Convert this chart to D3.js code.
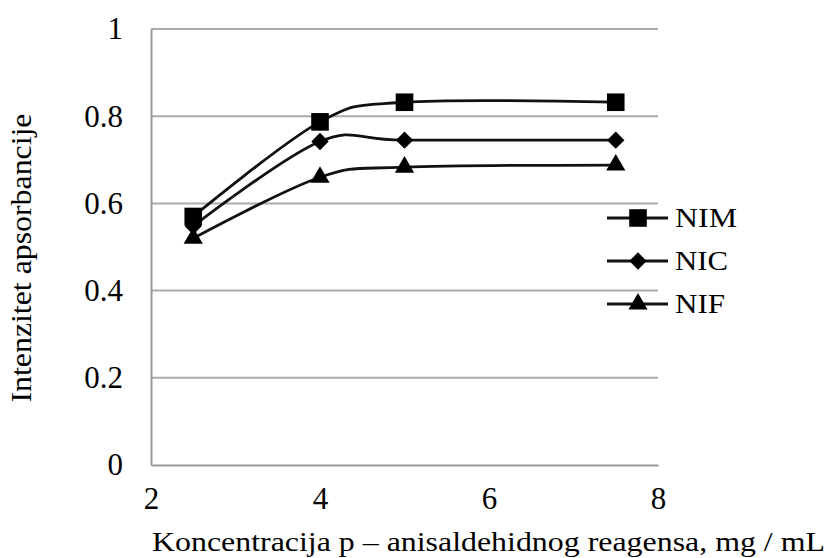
<!DOCTYPE html>
<html>
<head>
<meta charset="utf-8">
<script src="https://cdn.jsdelivr.net/npm/d3@7"></script>
<style>
  html, body { margin: 0; padding: 0; background: #fff; }
</style>
</head>
<body>
<svg id="chart" width="827" height="558"></svg>
<script>
const xValues = [2.5, 4, 5, 7.5];
const seriesNames = ["NIM", "NIC", "NIF"];
const nimValues = [0.57, 0.787, 0.832, 0.832];
const nicValues = [0.548, 0.742, 0.745, 0.745];
const nifValues = [0.52, 0.66, 0.683, 0.688];
const xTicks = [2, 4, 6, 8];
const yTicks = [0, 0.2, 0.4, 0.6, 0.8, 1];
const yTickLabels = ["0", "0.2", "0.4", "0.6", "0.8", "1"];
const xTitle = "Koncentracija p \u2013 anisaldehidnog reagensa, mg / mL";
const yTitle = "Intenzitet apsorbancije";

const FONT = "'Liberation Serif', 'Times New Roman', serif";
const seriesValues = [nimValues, nicValues, nifValues];

// marker generators: square, diamond (rotated square), triangle
const markerPath = [
  d3.symbol().type(d3.symbolSquare).size(310)(),
  d3.symbol().type(d3.symbolSquare).size(150)(),
  d3.symbol().type(d3.symbolTriangle).size(160)()
];
const markerRotate = [0, 45, 0];

const svg = d3.select("#chart");
const x = d3.scaleLinear().domain([2, 8]).range([151, 658]);
const y = d3.scaleLinear().domain([0, 1]).range([465, 29]);

// gridlines
svg.append("g").selectAll("line").data(yTicks.filter(d => d > 0)).join("line")
  .attr("x1", x(2)).attr("x2", x(8))
  .attr("y1", d => y(d)).attr("y2", d => y(d))
  .attr("stroke", "#ababab").attr("stroke-width", 2);

// axes
const xAxis = svg.append("g").attr("transform", `translate(0,${y(0)})`)
  .call(d3.axisBottom(x).tickValues(xTicks).tickSize(0).tickPadding(22).tickFormat(d3.format("d")));
xAxis.attr("font-family", null).attr("font-size", null);
xAxis.select(".domain").attr("stroke", "#9a9a9a").attr("stroke-width", 2);
xAxis.selectAll("text").style("font-family", FONT).style("font-size", "31px").style("fill", "#000");

const yAxis = svg.append("g").attr("transform", `translate(${x(2)},0)`)
  .call(d3.axisLeft(y).tickValues(yTicks).tickSize(0).tickPadding(28).tickFormat((d, i) => yTickLabels[i]));
yAxis.attr("font-family", null).attr("font-size", null);
yAxis.select(".domain").attr("stroke", "#9a9a9a").attr("stroke-width", 2);
yAxis.selectAll("text").style("font-family", FONT).style("font-size", "31px").style("fill", "#000");

// lines
const line = d3.line().x((d, i) => x(xValues[i])).y(d => y(d)).curve(d3.curveCardinal.tension(0));
seriesValues.forEach((vals, s) => {
  svg.append("path").datum(vals).attr("d", line)
    .attr("fill", "none").attr("stroke", "#111").attr("stroke-width", 2.8);
});
seriesValues.forEach((vals, s) => {
  svg.append("g").selectAll("path").data(vals).join("path")
    .attr("d", markerPath[s])
    .attr("transform", (d, i) => `translate(${x(xValues[i])},${y(d)}) rotate(${markerRotate[s]})`)
    .attr("fill", "#000");
});

// legend
const legendY = [218, 261, 304];
const legendLen = [62, 53, 50];
seriesNames.forEach((name, s) => {
  const g = svg.append("g").attr("transform", `translate(0,${legendY[s]})`);
  g.append("line").attr("x1", 607).attr("x2", 668).attr("y1", 0).attr("y2", 0)
    .attr("stroke", "#111").attr("stroke-width", 2.8);
  g.append("path").attr("d", markerPath[s])
    .attr("transform", `translate(638,0) rotate(${markerRotate[s]})`).attr("fill", "#000");
  g.append("text").attr("x", 675).attr("y", 9)
    .style("font-family", FONT).style("font-size", "27px").style("fill", "#000")
    .attr("textLength", legendLen[s]).attr("lengthAdjust", "spacingAndGlyphs").text(name);
});

// axis titles
svg.append("text").attr("x", 152).attr("y", 551)
  .style("font-family", FONT).style("font-size", "28px").style("fill", "#000")
  .attr("textLength", 673).attr("lengthAdjust", "spacingAndGlyphs").text(xTitle);
svg.append("text").attr("transform", "translate(31,258) rotate(-90)")
  .attr("text-anchor", "middle")
  .style("font-family", FONT).style("font-size", "29px").style("fill", "#000")
  .attr("textLength", 289).attr("lengthAdjust", "spacingAndGlyphs").text(yTitle);
</script>
</body>
</html>
